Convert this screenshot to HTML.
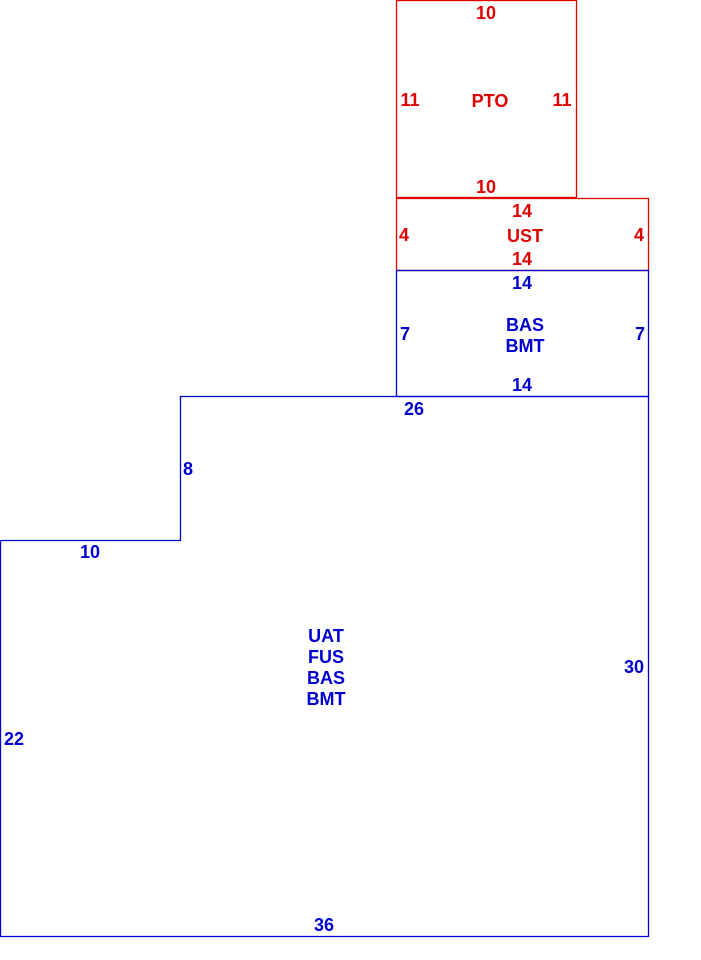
<!DOCTYPE html>
<html><head><style>html,body{margin:0;padding:0;background:#fff}svg{display:block}</style></head>
<body>
<svg width="701" height="960" xmlns="http://www.w3.org/2000/svg" font-family="Liberation Sans, sans-serif" font-weight="bold" font-size="18" text-anchor="middle">
<g fill="none" stroke-width="1.3">
<rect x="396.5" y="0.5" width="180" height="197" stroke="#e00000"/>
<rect x="396.5" y="198.5" width="252" height="72" stroke="#e00000"/>
<rect x="396.5" y="270.5" width="252" height="126" stroke="#0000d0"/>
<polygon points="180.5,396.5 648.5,396.5 648.5,936.5 0.5,936.5 0.5,540.5 180.5,540.5" stroke="#0000d0"/>
</g>
<g fill="#e00000">
<text x="486" y="19">10</text>
<text x="410" y="106">11</text>
<text x="562" y="106">11</text>
<text x="490" y="107">PTO</text>
<text x="486" y="193">10</text>
<text x="522" y="217">14</text>
<text x="404" y="241">4</text>
<text x="639" y="241">4</text>
<text x="525" y="242">UST</text>
<text x="522" y="265">14</text>
</g>
<g fill="#0000d0">
<text x="522" y="289">14</text>
<text x="405" y="340">7</text>
<text x="640" y="340">7</text>
<text x="525" y="331">BAS</text>
<text x="525" y="352">BMT</text>
<text x="522" y="391">14</text>
<text x="414" y="415">26</text>
<text x="188" y="475">8</text>
<text x="90" y="558">10</text>
<text x="326" y="642">UAT</text>
<text x="326" y="663">FUS</text>
<text x="326" y="684">BAS</text>
<text x="326" y="705">BMT</text>
<text x="634" y="673">30</text>
<text x="14" y="745">22</text>
<text x="324" y="931">36</text>
</g>
</svg>
</body></html>
